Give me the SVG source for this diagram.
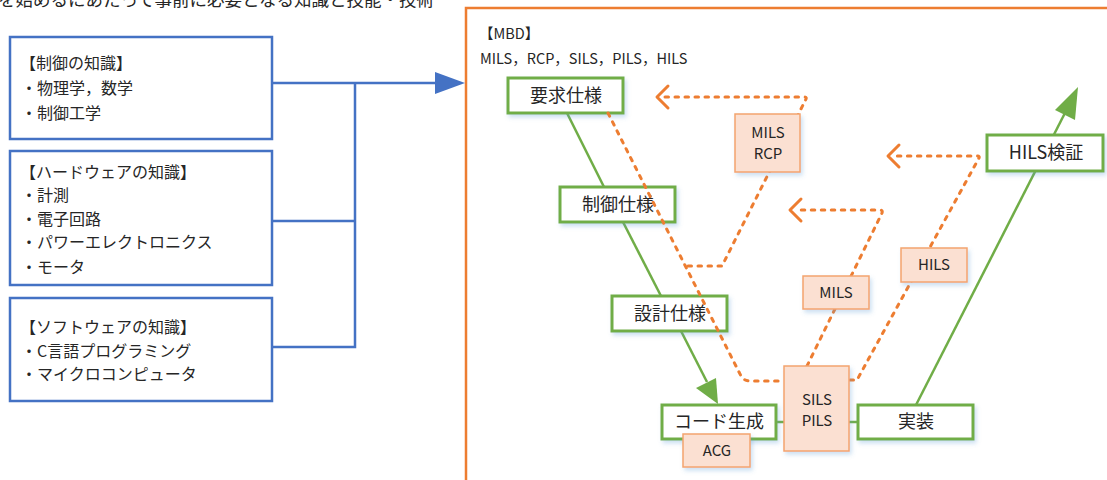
<svg xmlns="http://www.w3.org/2000/svg" width="1107" height="480" viewBox="0 0 1107 480">
<defs>
<style>
.t{font-family:"Noto Sans CJK JP","Noto Sans",sans-serif;fill:#262626}
.kb{fill:#fff;stroke:#4472C4;stroke-width:2.5}
.gb{fill:#fff;stroke:#70AD47;stroke-width:3;filter:url(#sh)}
.ob{fill:#FBE0D2;stroke:#F4A46E;stroke-width:1.5;filter:url(#sh)}
.bl{fill:none;stroke:#4472C4;stroke-width:2.5}
.gl{fill:none;stroke:#70AD47;stroke-width:2.5}
.od{fill:none;stroke:#ED7D31;stroke-width:3;stroke-dasharray:3.5 6.5;stroke-linecap:round;stroke-linejoin:round}
.ch{fill:none;stroke:#ED7D31;stroke-width:3;stroke-linecap:round;stroke-linejoin:round}
.lt{font-size:16px}
.gt{font-size:18px;text-anchor:middle}
.ot{font-size:15px;text-anchor:middle}
</style>
<filter id="sh" x="-20%" y="-20%" width="150%" height="160%">
<feDropShadow dx="2" dy="3" stdDeviation="2" flood-color="#5B9BD5" flood-opacity="0.3"/>
</filter>
</defs>
<rect width="1107" height="480" fill="#fff"/>

<text class="t" x="434" y="6" font-size="17.5" text-anchor="end">を始めるにあたって事前に必要となる知識と技能・技術</text>

<!-- MBD frame -->
<rect x="466" y="8" width="700" height="600" fill="none" stroke="#ED7D31" stroke-width="2.5"/>
<text class="t" x="479" y="39" font-size="14.5">【MBD】</text>
<text class="t" x="480" y="64" font-size="14.5">MILS，RCP，SILS，PILS，HILS</text>

<!-- knowledge boxes -->
<g id="k1">
<rect class="kb" x="10" y="37" width="262" height="102"/>
<text class="t lt" x="20" y="69">【制御の知識】</text>
<text class="t lt" x="21" y="94">・物理学，数学</text>
<text class="t lt" x="21" y="119">・制御工学</text>
</g>
<g id="k2">
<rect class="kb" x="10" y="151" width="262" height="134"/>
<text class="t lt" x="20" y="178">【ハードウェアの知識】</text>
<text class="t lt" x="21" y="201">・計測</text>
<text class="t lt" x="21" y="225">・電子回路</text>
<text class="t lt" x="21" y="248">・パワーエレクトロニクス</text>
<text class="t lt" x="21" y="273">・モータ</text>
</g>
<g id="k3">
<rect class="kb" x="10" y="298" width="262" height="103"/>
<text class="t lt" x="20" y="333">【ソフトウェアの知識】</text>
<text class="t lt" x="21" y="357">・C言語プログラミング</text>
<text class="t lt" x="21" y="380">・マイクロコンピュータ</text>
</g>

<g id="connectors">
<path class="bl" d="M272,83 H437"/>
<path d="M465,83 L435,72 L435,94 Z" fill="#4472C4"/>
<path class="bl" d="M355,83 V347 H272 M272,221 H355"/>

<!-- green V-flow -->
<path class="gl" d="M567,113 L604,187"/>
<path class="gl" d="M623,222 L661,296"/>
<path class="gl" d="M681,331 L707,382"/>
<path d="M718,404 L696,388 L716,378 Z" fill="#70AD47"/>
<path class="gl" d="M776,422 H784 M849,422 H858"/>
<path class="gl" d="M916,405 L1067,109"/>
<path d="M1078,87 L1055,110 L1075,120 Z" fill="#70AD47"/>
</g>

<g id="n-req"><rect class="gb" x="508" y="78" width="115" height="35"/><text class="t gt" x="566" y="102">要求仕様</text></g>
<g id="n-ctl"><rect class="gb" x="560" y="187" width="115" height="35"/><text class="t gt" x="618" y="211">制御仕様</text></g>
<g id="n-des"><rect class="gb" x="612" y="296" width="115" height="35"/><text class="t gt" x="670" y="320">設計仕様</text></g>
<g id="n-code"><rect class="gb" x="662" y="405" width="114" height="34"/><text class="t gt" x="719" y="428">コード生成</text></g>
<g id="n-impl"><rect class="gb" x="858" y="405" width="115" height="34"/><text class="t gt" x="916" y="428">実装</text></g>
<g id="n-hils"><rect class="gb" x="987" y="135" width="116" height="36"/><text class="t gt" x="1046" y="159">HILS検証</text></g>

<g id="dashed">
<path class="od" d="M608,113 L741,376 Q744,381 750,381 L784,381"/>
<path class="od" d="M688,266 L722,266 L806,99 Q807,97 804,97 L662,97"/>
<path class="ch" d="M668,86 L657,97 L668,108"/>
<path class="od" d="M807,366 L882,213 Q883,210 880,210 L795,210"/>
<path class="ch" d="M801,199 L790,210 L801,221"/>
<path class="od" d="M850,380 L857,380 L979,158 Q980,156 977,156 L893,156"/>
<path class="ch" d="M899,145 L888,156 L899,167"/>
</g>

<g id="n-mils-rcp"><rect class="ob" x="735" y="114" width="65" height="58"/><text class="t ot" x="768" y="138">MILS</text><text class="t ot" x="768" y="159">RCP</text></g>
<g id="n-mils"><rect class="ob" x="803" y="276" width="66" height="33"/><text class="t ot" x="836" y="298">MILS</text></g>
<g id="n-hils-s"><rect class="ob" x="901" y="248" width="66" height="34"/><text class="t ot" x="934" y="270">HILS</text></g>
<g id="n-sils"><rect class="ob" x="784" y="366" width="65" height="85"/><text class="t ot" x="817" y="405">SILS</text><text class="t ot" x="817" y="426">PILS</text></g>
<g id="n-acg"><rect class="ob" x="683" y="434" width="67" height="33"/><text class="t ot" x="717" y="456">ACG</text></g>
</svg>
